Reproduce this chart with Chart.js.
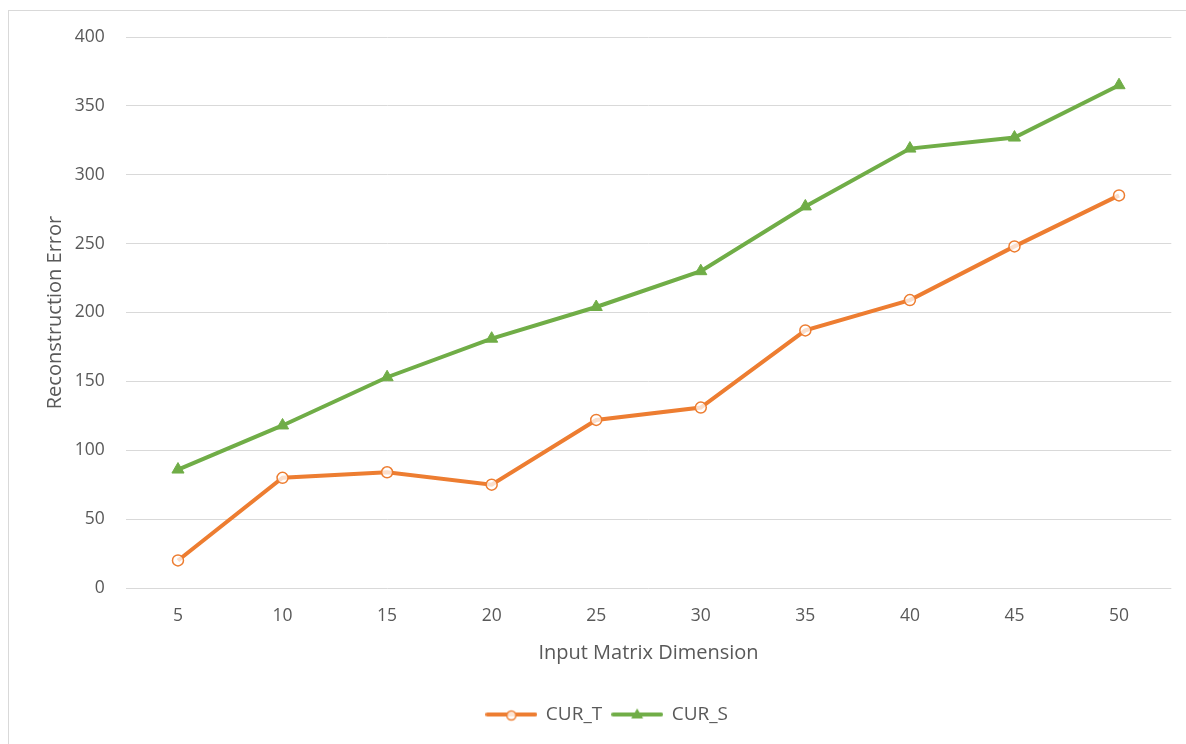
<!DOCTYPE html>
<html>
<head>
<meta charset="utf-8">
<script src="https://cdn.jsdelivr.net/npm/chart.js@4/dist/chart.umd.min.js"></script>
<style>
  html, body { margin: 0; padding: 0; background: #ffffff; overflow: hidden; }
  #frame { position: absolute; left: 8px; top: 10px; width: 1300px; height: 900px;
           border: 1px solid #d9d9d9; box-sizing: border-box; }
  #wrap { position: absolute; left: 0; top: 0; width: 1186px; height: 744px; }
</style>
</head>
<body>
<div id="frame"></div>
<div id="wrap"><canvas id="chart"></canvas></div>
<script>
// Matrix sizes on the x axis
const dimensions = ['5', '10', '15', '20', '25', '30', '35', '40', '45', '50'];
// Reconstruction error per method
const curT = [20, 80, 84, 75, 122, 131, 187, 209, 248, 285];
const curS = [86, 118, 153, 181, 204, 230, 277, 319, 327, 365];
// Value axis range
const yMin = 0;
const yMax = 400;
const yStep = 50;

const ORANGE = '#ED7D31';
const GREEN = '#70AD47';
const TEXT = '#595959';
const FONT = '"Open Sans", Lato, "Liberation Sans", sans-serif';

// Legend swatch: a short line with the series marker in its middle
function swatch(color, kind) {
  const c = document.createElement('canvas');
  c.width = 52; c.height = 16;
  const g = c.getContext('2d');
  g.strokeStyle = color; g.lineWidth = 4; g.lineCap = 'round';
  g.beginPath(); g.moveTo(2, 8); g.lineTo(50, 8); g.stroke();
  if (kind === 'circle') {
    g.fillStyle = 'rgba(255,255,255,0.8)';
    g.lineWidth = 1.5;
    g.beginPath(); g.arc(26, 9, 4.5, 0, Math.PI * 2); g.fill(); g.stroke();
  } else {
    g.fillStyle = color;
    g.beginPath(); g.moveTo(26, 2); g.lineTo(32, 12); g.lineTo(20, 12); g.closePath(); g.fill();
  }
  return c;
}
const swatches = [swatch(ORANGE, 'circle'), swatch(GREEN, 'triangle')];

new Chart(document.getElementById('chart'), {
  type: 'line',
  data: {
    labels: dimensions,
    datasets: [
      {
        label: 'CUR_T',
        data: curT,
        borderColor: ORANGE,
        backgroundColor: ORANGE,
        borderWidth: 4,
        pointStyle: 'circle',
        pointRadius: 5.5,
        pointBorderWidth: 1.5,
        pointBorderColor: ORANGE,
        pointBackgroundColor: 'rgba(255,255,255,0.75)',
        tension: 0
      },
      {
        label: 'CUR_S',
        data: curS,
        borderColor: GREEN,
        backgroundColor: GREEN,
        borderWidth: 4,
        pointStyle: 'triangle',
        pointRadius: 7,
        pointBorderWidth: 1,
        pointBorderColor: GREEN,
        pointBackgroundColor: GREEN,
        tension: 0
      }
    ]
  },
  options: {
    responsive: true,
    maintainAspectRatio: false,
    animation: false,
    layout: { padding: { left: 43, right: 14.7, top: 37, bottom: 10 } },
    plugins: {
      tooltip: { enabled: false },
      legend: {
        position: 'bottom',
        labels: {
          color: TEXT,
          font: { family: FONT, size: 19 },
          usePointStyle: true,
          pointStyleWidth: 50,
          padding: 10,
          generateLabels(chart) {
            return chart.data.datasets.map((ds, i) => ({
              text: ds.label,
              fillStyle: ds.borderColor,
              strokeStyle: ds.borderColor,
              lineWidth: 0,
              pointStyle: swatches[i],
              fontColor: TEXT,
              hidden: !chart.isDatasetVisible(i),
              datasetIndex: i
            }));
          }
        }
      }
    },
    scales: {
      x: {
        offset: true,
        grid: { display: false, drawTicks: false },
        border: { display: false },
        ticks: { color: TEXT, font: { family: FONT, size: 17.5 }, padding: 17.5, maxRotation: 0 },
        title: {
          display: true,
          text: 'Input Matrix Dimension',
          color: TEXT,
          font: { family: FONT, size: 20 },
          padding: { top: 0, bottom: 30 }
        },
        afterFit(scale) { scale.height = 107; }
      },
      y: {
        min: yMin,
        max: yMax,
        ticks: { stepSize: yStep, color: TEXT, font: { family: FONT, size: 17.5 }, padding: 21 },
        grid: { color: '#d9d9d9', lineWidth: 1, drawTicks: false },
        border: { display: false },
        title: {
          display: true,
          text: 'Reconstruction Error',
          color: TEXT,
          font: { family: FONT, size: 20 },
          padding: { top: 0, bottom: 0 }
        },
        afterFit(scale) { scale.width = 82.7; }
      }
    }
  }
});
</script>
</body>
</html>
